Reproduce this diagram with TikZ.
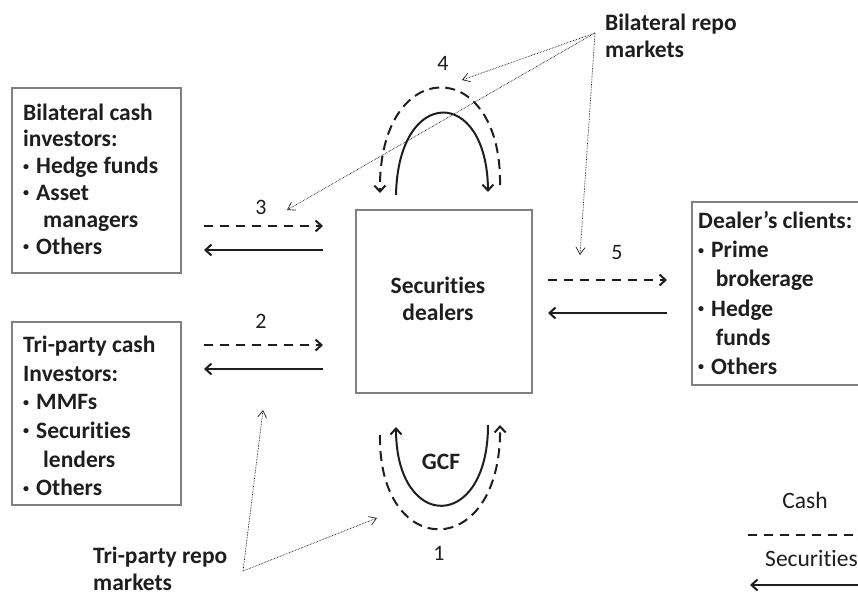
\documentclass[tikz,border=0pt]{standalone}
\usepackage{fontspec}
\setmainfont{Carlito}[Ligatures=NoCommon]
\usetikzlibrary{arrows.meta,calc}
\definecolor{boxgray}{RGB}{128,128,128}
\definecolor{ink}{RGB}{30,30,30}
\newcommand\bul{\raisebox{0.32ex}{\fontsize{12}{12}\selectfont •}\hspace{0.3em}}
\begin{document}
\begin{tikzpicture}[x=1pt,y=-1pt,
  box/.style={draw=boxgray, line width=2.2pt, rectangle, inner sep=0pt},
  lbl/.style={text=ink, inner sep=0pt, align=left, font=\fontsize{23.5}{27}\selectfont\bfseries},
  num/.style={text=ink, inner sep=0pt, font=\fontsize{22}{25}\selectfont},
  cash/.style={draw=ink, line width=2pt, dash pattern=on 9pt off 7pt, -{Straight Barb[length=6pt,width=11pt]}},
  sec/.style={draw=ink, line width=2pt, -{Straight Barb[length=6pt,width=11pt]}},
  ptr/.style={draw=ink, line width=0.7pt, dash pattern=on 0.7pt off 0.9pt, -{Straight Barb[length=7pt,width=9pt,line width=0.7pt]}}
]
\useasboundingbox (0,0) rectangle (858,597);

% boxes
\node[box, minimum width=169pt, minimum height=185pt] (bci) at (96.5,180.5) {};
\node[box, minimum width=169pt, minimum height=183pt] (tci) at (96.5,413.5) {};
\node[box, minimum width=176pt, minimum height=183pt] (sd) at (444,301.5) {};
\node[box, minimum width=180pt, minimum height=183pt] (dc) at (782,293.5) {};

% box texts
\node[lbl, anchor=west, font=\fontsize{23.5}{26.8}\selectfont\bfseries] (bcit) at (23,179) {Bilateral cash\\investors:\\\bul Hedge funds\\\bul Asset\\\hspace*{0.85em}managers\\\bul Others};
\node[lbl, anchor=west, font=\fontsize{23.5}{28.6}\selectfont\bfseries] (tcit) at (23,416) {Tri-party cash\\Investors:\\\bul MMFs\\\bul Securities\\\hspace*{0.85em}lenders\\\bul Others};
\node[lbl, align=center] (sdt) at (438,299) {Securities\\dealers};
\node[lbl, anchor=west, font=\fontsize{23.5}{29.2}\selectfont\bfseries] (dct) at (698,293) {Dealer’s clients:\\\bul Prime\\\hspace*{0.75em}brokerage\\\bul Hedge\\\hspace*{0.75em}funds\\\bul Others};

% market labels
\node[lbl, anchor=west, font=\fontsize{23.5}{27.5}\selectfont\bfseries] (brm) at (605,36) {Bilateral repo\\markets};
\node[lbl, anchor=west, font=\fontsize{23.5}{27.5}\selectfont\bfseries] (trm) at (93,569) {Tri-party repo\\markets};
\coordinate (brmsrc) at (595,33);
\coordinate (trmsrc) at (243,571);

% numbers
\node[num] (n4) at (443,63) {4};
\node[num] (n3) at (261,207) {3};
\node[num] (n2) at (261,321) {2};
\node[num] (n5) at (617,253) {5};
\node[num] (n1) at (439,553) {1};
\node[lbl] (gcf) at (441,462) {GCF};

% flow arrows endpoints
\coordinate (a3s) at (204,226); \coordinate (a3e) at (323,226);
\coordinate (b3s) at (323,250); \coordinate (b3e) at (204,250);
\coordinate (a2s) at (204,345); \coordinate (a2e) at (323,345);
\coordinate (b2s) at (323,369); \coordinate (b2e) at (204,369);
\coordinate (a5s) at (548,280); \coordinate (a5e) at (667,280);
\coordinate (b5s) at (667,313); \coordinate (b5e) at (548,313);
\draw[cash] (a3s) -- (a3e);
\draw[sec] (b3s) -- (b3e);
\draw[cash] (a2s) -- (a2e);
\draw[sec] (b2s) -- (b2e);
\draw[cash] (a5s) -- (a5e);
\draw[sec] (b5s) -- (b5e);

% top arches (4)
\coordinate (t4ds) at (500,185); \coordinate (t4de) at (380,193);
\coordinate (t4ss) at (396,195); \coordinate (t4se) at (488,192);
\draw[cash, dash pattern=on 10pt off 6pt] (t4ds) .. controls (502,54) and (378,54) .. (t4de);
\draw[sec] (t4ss) .. controls (398,86) and (487,86) .. (t4se);

% bottom arches (1, GCF)
\coordinate (g1ss) at (488,425); \coordinate (g1se) at (396,427);
\coordinate (g1ds) at (380,435); \coordinate (g1de) at (500,425);
\draw[sec] (g1ss) .. controls (488,532) and (396,532) .. (g1se);
\draw[cash, dash pattern=on 10pt off 6pt] (g1ds) .. controls (378,562) and (502,562) .. (g1de);

% pointers
\coordinate (p4) at (462,80);
\coordinate (p3) at (287,210);
\coordinate (p5) at (580,255);
\coordinate (p2) at (263,410);
\coordinate (p1) at (377,518);
\draw[ptr] (brmsrc) -- (p4);
\draw[ptr] (brmsrc) -- (p3);
\draw[ptr] (brmsrc) -- (p5);
\draw[ptr] (trmsrc) -- (p2);
\draw[ptr] (trmsrc) -- (p1);

% legend
\node[num, font=\fontsize{23.5}{25}\selectfont] (lcash) at (805,500) {Cash};
\node[num, anchor=west, font=\fontsize{23.5}{25}\selectfont] (lsec) at (765,558) {Securities};
\coordinate (lcs) at (748,535); \coordinate (lce) at (866,535);
\coordinate (lss) at (870,585); \coordinate (lse) at (750,585);
\draw[cash] (lcs) -- (lce);
\draw[sec] (lss) -- (lse);
\end{tikzpicture}
\end{document}
